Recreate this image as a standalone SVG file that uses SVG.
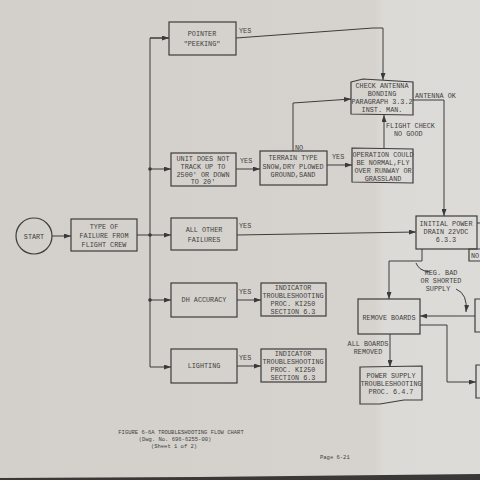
<svg xmlns="http://www.w3.org/2000/svg" width="480" height="480" viewBox="0 0 480 480">
<defs>
<marker id="ah" markerWidth="7" markerHeight="5" refX="7" refY="2.5" orient="auto" markerUnits="userSpaceOnUse">
<path d="M0,0 L7,2.5 L0,5 Z" fill="#3a3a3a"/>
</marker>
<linearGradient id="paper" x1="0" y1="0" x2="1" y2="0">
<stop offset="0" stop-color="#d3d0cb"/>
<stop offset="0.78" stop-color="#d6d3ce"/>
<stop offset="0.8" stop-color="#dcdad6"/>
<stop offset="1" stop-color="#dddbd7"/>
</linearGradient>
</defs>
<style>
.b{fill:none;stroke:#3c3c3c;stroke-width:1.2}
.c{fill:none;stroke:#3c3c3c;stroke-width:1}
.t{font-family:"Liberation Mono","DejaVu Sans Mono",monospace;font-size:6.8px;fill:#404040;text-anchor:middle}
.l{font-family:"Liberation Mono","DejaVu Sans Mono",monospace;font-size:6.8px;fill:#404040}
.cap{font-size:5.5px}
.d{fill:#3a3a3a}
</style>
<rect width="480" height="480" fill="url(#paper)"/>
<path d="M0,478 L200,477 L480,474 L480,480 L0,480 Z" fill="#3a3836"/>

<g id="connectors">
<line class="c" x1="52" y1="236" x2="71" y2="236" marker-end="url(#ah)"/>
<line class="c" x1="137" y1="235" x2="150" y2="235"/>
<polyline class="c" points="169,38 150,38 150,367 171,367" marker-end="url(#ah)"/>
<line class="c" x1="150" y1="38" x2="169" y2="38" marker-end="url(#ah)"/>
<line class="c" x1="150" y1="169" x2="171" y2="169" marker-end="url(#ah)"/>
<line class="c" x1="150" y1="235" x2="171" y2="235" marker-end="url(#ah)"/>
<line class="c" x1="150" y1="300" x2="171" y2="300" marker-end="url(#ah)"/>
<circle class="d" cx="150" cy="169" r="1.8"/>
<circle class="d" cx="150" cy="235" r="1.8"/>
<circle class="d" cx="150" cy="300" r="1.8"/>
<polyline class="c" points="236,38 373,28 383,28 383,80" marker-end="url(#ah)"/>
<line class="c" x1="236" y1="169" x2="260" y2="169" marker-end="url(#ah)"/>
<line class="c" x1="327" y1="165" x2="352" y2="165" marker-end="url(#ah)"/>
<polyline class="c" points="293,151 293,103 351,99" marker-end="url(#ah)"/>
<line class="c" x1="384" y1="148" x2="384" y2="115" marker-end="url(#ah)"/>
<polyline class="c" points="413,100 444,100 444,216" marker-end="url(#ah)"/>
<line class="c" x1="237" y1="235" x2="416" y2="232" marker-end="url(#ah)"/>
<line class="c" x1="237" y1="300" x2="261" y2="300" marker-end="url(#ah)"/>
<line class="c" x1="237" y1="366" x2="261" y2="366" marker-end="url(#ah)"/>
<line class="c" x1="477" y1="223" x2="480" y2="223"/>
<polyline class="c" points="422,249 422,261 389,261 389,299" marker-end="url(#ah)"/>
<line class="c" x1="475" y1="316" x2="420" y2="316" marker-end="url(#ah)"/>
<polyline class="c" points="420,325 447,325 447,382 476,382" marker-end="url(#ah)"/>
<line class="c" x1="390" y1="334" x2="390" y2="367" marker-end="url(#ah)"/>
<path class="c" d="M430,272 Q419,271 416,263"/>
<path class="c" d="M456,289 Q468,294 466,312" marker-end="url(#ah)"/>
</g>

<g id="start"><circle class="b" cx="34" cy="236" r="18"/><text class="t" x="34" y="239">START</text></g>
<g id="type-of-failure"><rect class="b" x="71" y="219" width="66" height="32"/>
<text class="t" x="104" y="229">TYPE OF</text><text class="t" x="104" y="238">FAILURE FROM</text><text class="t" x="104" y="247">FLIGHT CREW</text></g>
<g id="pointer"><rect class="b" x="169" y="22" width="67" height="33"/>
<text class="t" x="202" y="36">POINTER</text><text class="t" x="202" y="46">"PEEKING"</text></g>
<g id="unit-does-not"><rect class="b" x="171" y="153" width="65" height="33"/>
<text class="t" x="203" y="161">UNIT DOES NOT</text><text class="t" x="203" y="169">TRACK UP TO</text><text class="t" x="203" y="177">2500' OR DOWN</text><text class="t" x="203" y="184">TO 20'</text></g>
<g id="all-other"><rect class="b" x="171" y="218" width="66" height="32"/>
<text class="t" x="204" y="232">ALL OTHER</text><text class="t" x="204" y="242">FAILURES</text></g>
<g id="dh-accuracy"><rect class="b" x="171" y="283" width="66" height="34"/>
<text class="t" x="204" y="302">DH ACCURACY</text></g>
<g id="lighting"><rect class="b" x="171" y="349" width="66" height="34"/>
<text class="t" x="204" y="368">LIGHTING</text></g>
<g id="indicator-1"><rect class="b" x="261" y="283" width="65" height="33"/>
<text class="t" x="293" y="290">INDICATOR</text><text class="t" x="293" y="298">TROUBLESHOOTING</text><text class="t" x="293" y="306">PROC. KI250</text><text class="t" x="293" y="314">SECTION 6.3</text></g>
<g id="indicator-2"><rect class="b" x="261" y="349" width="65" height="33"/>
<text class="t" x="293" y="356">INDICATOR</text><text class="t" x="293" y="364">TROUBLESHOOTING</text><text class="t" x="293" y="372">PROC. KI250</text><text class="t" x="293" y="380">SECTION 6.3</text></g>
<g id="terrain"><rect class="b" x="260" y="151" width="67" height="34"/>
<text class="t" x="293" y="160">TERRAIN TYPE</text><text class="t" x="293" y="169">SNOW,DRY PLOWED</text><text class="t" x="293" y="177">GROUND,SAND</text></g>
<g id="operation"><path class="b" d="M352,148 L413,149 L413,183 L352,182 Z"/>
<text class="t" x="383" y="157">OPERATION COULD</text><text class="t" x="383" y="165">BE NORMAL,FLY</text><text class="t" x="383" y="173">OVER RUNWAY OR</text><text class="t" x="383" y="181">GRASSLAND</text></g>
<g id="check-antenna"><path class="b" d="M351,82 L363,79 L413,82 L413,115 L351,114 Z"/>
<text class="t" x="382" y="88">CHECK ANTENNA</text><text class="t" x="382" y="96">BONDING</text><text class="t" x="382" y="104">PARAGRAPH 3.3.2</text><text class="t" x="382" y="112">INST. MAN.</text></g>
<g id="initial-power"><rect class="b" x="416" y="216" width="61" height="33"/>
<text class="t" x="446" y="226">INITIAL POWER</text><text class="t" x="446" y="234">DRAIN 22VDC</text><text class="t" x="446" y="242">6.3.3</text></g>
<g id="no-box"><polyline class="b" points="480,249 469,249 469,261 480,261"/><text class="l" x="471" y="258">NO</text></g>
<g id="right-box-1"><polyline class="b" points="481,299 475,299 475,332 481,332"/></g>
<g id="right-box-2"><polyline class="b" points="481,365 476,365 476,398 481,398"/></g>
<g id="remove-boards"><rect class="b" x="358" y="299" width="62" height="35"/>
<text class="t" x="389" y="320">REMOVE BOARDS</text></g>
<g id="power-supply"><path class="b" d="M360,367 L422,366 L422,400 L404,400 L380,404 L360,404 Z"/>
<text class="t" x="391" y="378">POWER SUPPLY</text><text class="t" x="391" y="386">TROUBLESHOOTING</text><text class="t" x="391" y="394">PROC. 6.4.7</text></g>

<g id="labels">
<text class="l" x="239" y="33">YES</text>
<text class="l" x="240" y="163">YES</text>
<text class="l" x="332" y="159">YES</text>
<text class="l" x="295" y="150">NO</text>
<text class="l" x="386" y="128">FLIGHT CHECK</text>
<text class="l" x="394" y="136">NO GOOD</text>
<text class="l" x="415" y="98">ANTENNA OK</text>
<text class="l" x="239" y="228">YES</text>
<text class="l" x="239" y="294">YES</text>
<text class="l" x="239" y="360">YES</text>
<text class="t" x="441" y="275">REG. BAD</text>
<text class="t" x="441" y="283">OR SHORTED</text>
<text class="t" x="438" y="291">SUPPLY</text>
<text class="t" x="368" y="346">ALL BOARDS</text>
<text class="t" x="368" y="354">REMOVED</text>
</g>

<g id="caption">
<text class="t cap" x="181" y="434">FIGURE 6-6A TROUBLESHOOTING FLOW CHART</text>
<text class="t cap" x="175" y="441">(Dwg. No. 696-6255-00)</text>
<text class="t cap" x="174" y="448">(Sheet 1 of 2)</text>
<text class="l cap" x="320" y="459">Page 6-21</text>
</g>
</svg>
